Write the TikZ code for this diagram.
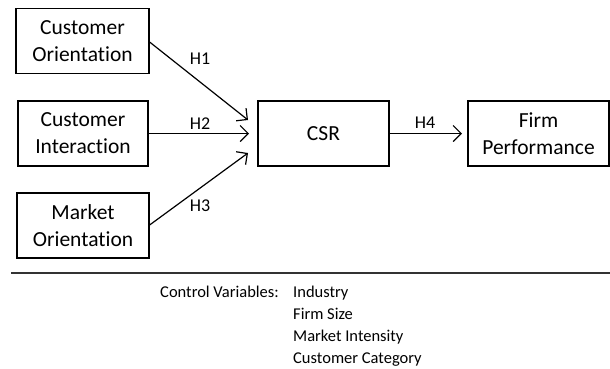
\documentclass[tikz,border=0pt]{standalone}
\usepackage{fontspec}
\setmainfont{Carlito}[Ligatures=NoCommon]
\usetikzlibrary{arrows.meta}
\begin{document}
\begin{tikzpicture}[x=1pt,y=-1pt,
  box/.style={draw,line width=1.2pt,minimum height=65pt,align=center,font=\fontsize{21.5}{27}\selectfont,inner sep=0pt},
  arr/.style={line width=1.2pt,-{Straight Barb[length=8pt,width=16pt,line width=1.2pt]}},
  hlab/.style={font=\fontsize{18}{20}\selectfont},
  ctl/.style={font=\fontsize{16.5}{22}\selectfont,inner sep=0pt}]
\useasboundingbox (0,0) rectangle (610,368);
\node[box,minimum width=133pt] (co) at (82.5,41) {Customer\\Orientation};
\node[box,minimum width=130pt] (ci) at (83,133.5) {Customer\\Interaction};
\node[box,minimum width=132pt] (mo) at (83,225.5) {Market\\Orientation};
\node[box,minimum width=131pt] (csr) at (323.5,133.5) {CSR};
\node[box,minimum width=141pt] (fp) at (538.5,133.5) {Firm\\Performance};
\coordinate (t1) at (248,120);
\coordinate (t2) at (249,133.5);
\coordinate (t3) at (248,153);
\coordinate (t4) at (462,133.5);
\draw[arr] (co.east |- 0,42) -- (t1);
\draw[arr] (ci.east) -- (t2);
\draw[arr] (mo.east |- 0,225) -- (t3);
\draw[arr] (csr.east) -- (t4);
\node[hlab] (h1) at (200,59) {H1};
\node[hlab] (h2) at (200,124) {H2};
\node[hlab] (h3) at (200,206) {H3};
\node[hlab] (h4) at (425,123) {H4};
\coordinate (la) at (11,273);
\coordinate (lb) at (610,273);
\draw[line width=1.8pt,black!80] (la) -- (lb);
\node[ctl,anchor=north east] (cv) at (279,286) {Control Variables:};
\node[ctl,anchor=north west,align=left] (vars) at (293,286) {Industry\\Firm Size\\Market Intensity\\Customer Category};
\end{tikzpicture}
\end{document}
